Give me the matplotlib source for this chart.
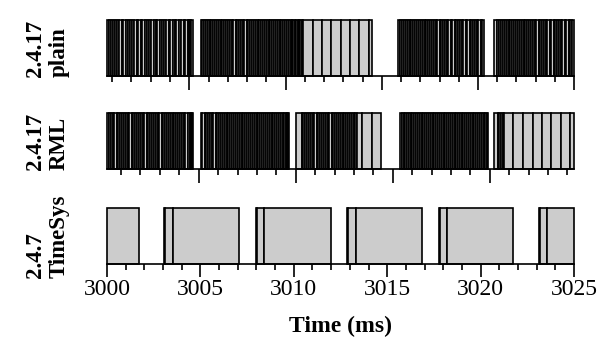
import matplotlib
matplotlib.use("Agg")
import matplotlib.pyplot as plt
import numpy as np

plt.rcParams["font.family"] = ["Liberation Serif", "DejaVu Serif"]

# boundary times (ms) of consecutive busy slices, one list per burst
plain_bursts = [
    [3000.00, 3000.09, 3000.22, 3000.30, 3000.44, 3000.55, 3000.63, 3000.78, 3000.88, 3001.01,
     3001.10, 3001.24, 3001.33, 3001.47, 3001.58, 3001.66, 3001.81, 3001.90, 3002.04, 3002.13,
     3002.27, 3002.36, 3002.50, 3002.61, 3002.69, 3002.84, 3002.93, 3003.07, 3003.16, 3003.30,
     3003.39, 3003.53, 3003.64, 3003.72, 3003.87, 3003.96, 3004.10, 3004.19, 3004.33, 3004.38,
     3004.45, 3004.52, 3004.60],
    [3005.02, 3005.10, 3005.21, 3005.29, 3005.40, 3005.51, 3005.59, 3005.70, 3005.80, 3005.88,
     3005.99, 3006.10, 3006.18, 3006.29, 3006.39, 3006.47, 3006.58, 3006.69, 3006.77, 3006.88,
     3006.98, 3007.06, 3007.17, 3007.28, 3007.36, 3007.47, 3007.57, 3007.65, 3007.76, 3007.87,
     3007.95, 3008.06, 3008.16, 3008.24, 3008.35, 3008.46, 3008.54, 3008.65, 3008.75, 3008.83,
     3008.94, 3009.05, 3009.13, 3009.24, 3009.34, 3009.42, 3009.53, 3009.64, 3009.72, 3009.83,
     3009.90, 3009.97, 3010.05, 3010.12, 3010.20, 3010.27, 3010.35, 3010.42, 3010.51, 3011.01,
     3011.49, 3011.99, 3012.51, 3013.01, 3013.51, 3014.04, 3014.20],
    [3015.60, 3015.68, 3015.79, 3015.88, 3016.00, 3016.09, 3016.21, 3016.28, 3016.40, 3016.49,
     3016.61, 3016.68, 3016.80, 3016.89, 3017.01, 3017.08, 3017.20, 3017.29, 3017.41, 3017.48,
     3017.60, 3017.69, 3017.81, 3017.88, 3018.00, 3018.09, 3018.21, 3018.28, 3018.40, 3018.49,
     3018.61, 3018.68, 3018.80, 3018.89, 3019.01, 3019.08, 3019.20, 3019.29, 3019.41, 3019.48,
     3019.60, 3019.69, 3019.81, 3019.88, 3020.00, 3020.09, 3020.20],
    [3020.70, 3020.90, 3020.98, 3021.09, 3021.18, 3021.30, 3021.39, 3021.51, 3021.58, 3021.70,
     3021.79, 3021.91, 3021.98, 3022.10, 3022.19, 3022.31, 3022.38, 3022.50, 3022.59, 3022.71,
     3022.78, 3022.90, 3022.99, 3023.11, 3023.18, 3023.30, 3023.39, 3023.51, 3023.58, 3023.70,
     3023.79, 3023.91, 3023.98, 3024.10, 3024.19, 3024.31, 3024.38, 3024.50, 3024.59, 3024.71,
     3024.78, 3024.90, 3025.00],
]

rml_bursts = [
    [3000.00, 3000.12, 3000.20, 3000.31, 3000.40, 3000.52, 3000.60, 3000.71, 3000.80, 3000.92,
     3001.00, 3001.11, 3001.20, 3001.32, 3001.40, 3001.51, 3001.60, 3001.72, 3001.80, 3001.91,
     3002.00, 3002.12, 3002.20, 3002.31, 3002.40, 3002.52, 3002.60, 3002.71, 3002.80, 3002.92,
     3003.00, 3003.11, 3003.20, 3003.32, 3003.40, 3003.51, 3003.60, 3003.72, 3003.80, 3003.91,
     3004.00, 3004.11, 3004.20, 3004.32, 3004.42, 3004.48, 3004.55, 3004.62],
    [3005.03, 3005.11, 3005.22, 3005.30, 3005.41, 3005.50, 3005.62, 3005.70, 3005.81, 3005.90,
     3006.02, 3006.10, 3006.21, 3006.30, 3006.42, 3006.50, 3006.61, 3006.70, 3006.82, 3006.90,
     3007.01, 3007.10, 3007.22, 3007.30, 3007.41, 3007.50, 3007.62, 3007.70, 3007.81, 3007.90,
     3008.02, 3008.10, 3008.21, 3008.30, 3008.42, 3008.50, 3008.61, 3008.70, 3008.82, 3008.90,
     3009.01, 3009.10, 3009.22, 3009.30, 3009.41, 3009.50, 3009.58, 3009.64, 3009.70, 3009.74],
    [3010.10, 3010.42, 3010.50, 3010.61, 3010.70, 3010.82, 3010.90, 3011.01, 3011.10, 3011.22,
     3011.30, 3011.41, 3011.50, 3011.62, 3011.70, 3011.81, 3011.90, 3012.02, 3012.10, 3012.21,
     3012.30, 3012.42, 3012.50, 3012.61, 3012.70, 3012.82, 3012.90, 3013.01, 3013.10, 3013.20,
     3013.30, 3013.38, 3013.63, 3014.17, 3014.65],
    [3015.69, 3015.77, 3015.88, 3015.96, 3016.07, 3016.16, 3016.27, 3016.35, 3016.46, 3016.55,
     3016.66, 3016.74, 3016.85, 3016.94, 3017.05, 3017.13, 3017.24, 3017.33, 3017.44, 3017.52,
     3017.63, 3017.72, 3017.83, 3017.91, 3018.02, 3018.11, 3018.22, 3018.30, 3018.41, 3018.50,
     3018.61, 3018.69, 3018.80, 3018.89, 3019.00, 3019.08, 3019.19, 3019.28, 3019.39, 3019.47,
     3019.58, 3019.67, 3019.78, 3019.86, 3019.97, 3020.06, 3020.17, 3020.25, 3020.32, 3020.38],
    [3020.73, 3020.93, 3021.00, 3021.10, 3021.18, 3021.25, 3021.75, 3022.27, 3022.79, 3023.27,
     3023.78, 3024.29, 3024.79, 3025.00],
]

timesys_bursts = [
    [3000.00, 3001.70],
    [3003.05, 3003.10, 3003.52, 3007.08],
    [3007.97, 3008.02, 3008.40, 3011.99],
    [3012.85, 3012.90, 3013.31, 3016.88],
    [3017.76, 3017.81, 3018.19, 3021.75],
    [3023.12, 3023.17, 3023.57, 3025.00],
]

# period markers under the first two rows
plain_major = [3004.41, 3009.56, 3014.71, 3019.86, 3025.00]
plain_minor = [3000.28, 3001.31, 3002.34, 3003.38, 3005.44, 3006.47, 3007.50, 3008.53,
               3010.59, 3011.62, 3012.65, 3013.68, 3015.74, 3016.77, 3017.80, 3018.83,
               3020.89, 3021.92, 3022.95, 3023.98]
rml_major = [3004.91, 3010.10, 3015.29, 3020.48]
rml_minor = [3000.75, 3001.79, 3002.83, 3003.87, 3005.96, 3007.00, 3008.03, 3009.07,
             3011.14, 3012.18, 3013.22, 3014.25, 3016.34, 3017.38, 3018.42, 3019.45,
             3021.53, 3022.57, 3023.60, 3024.64]
time_major = [3000, 3005, 3010, 3015, 3020, 3025]
time_minor = [3001, 3002, 3003, 3004, 3006, 3007, 3008, 3009, 3011, 3012, 3013, 3014,
              3016, 3017, 3018, 3019, 3021, 3022, 3023, 3024]

row_labels = ["2.4.17\nplain", "2.4.17\nRML", "2.4.7\nTimeSys"]

W, H = 616, 358
fig = plt.figure(figsize=(W / 100, H / 100), dpi=100)

left, width = 107 / W, 467 / W
rows = [(20, 76), (113, 169), (208, 264)]
axes = [fig.add_axes([left, 1 - b / H, width, (b - t) / H]) for t, b in rows]


def draw_bursts(ax, bursts):
    for edges in bursts:
        e = np.array(edges)
        ax.bar(e[:-1], 1, width=np.diff(e), align="edge", color="#cccccc",
               edgecolor="black", linewidth=1.2, clip_on=False)


for ax, bursts, label in zip(axes, [plain_bursts, rml_bursts, timesys_bursts], row_labels):
    draw_bursts(ax, bursts)
    ax.set_xlim(3000, 3025)
    ax.set_ylim(0, 1)
    for s in ["top", "left", "right"]:
        ax.spines[s].set_visible(False)
    ax.spines["bottom"].set_linewidth(1.2)
    ax.set_yticks([])
    ax.text(-0.128, 0.5, label, transform=ax.transAxes, rotation=90, ha="center",
            va="center", multialignment="left", fontsize=16.5, fontweight="bold")

for ax, major, minor in [(axes[0], plain_major, plain_minor), (axes[1], rml_major, rml_minor)]:
    ax.set_xticks(major)
    ax.set_xticks(minor, minor=True)
    ax.set_xticklabels([])
    ax.tick_params(axis="x", which="major", length=10, width=1.2, direction="out")
    ax.tick_params(axis="x", which="minor", length=4, width=1.2, direction="out")

ax = axes[2]
ax.set_xticks(time_major)
ax.set_xticks(time_minor, minor=True)
ax.tick_params(axis="x", which="major", length=9, width=1.2, direction="out",
               labelsize=17, pad=2)
ax.tick_params(axis="x", which="minor", length=4.3, width=1.2, direction="out")
ax.set_xlabel("Time (ms)", fontsize=17, fontweight="bold", labelpad=11)

fig.savefig("out.png", dpi=100)
